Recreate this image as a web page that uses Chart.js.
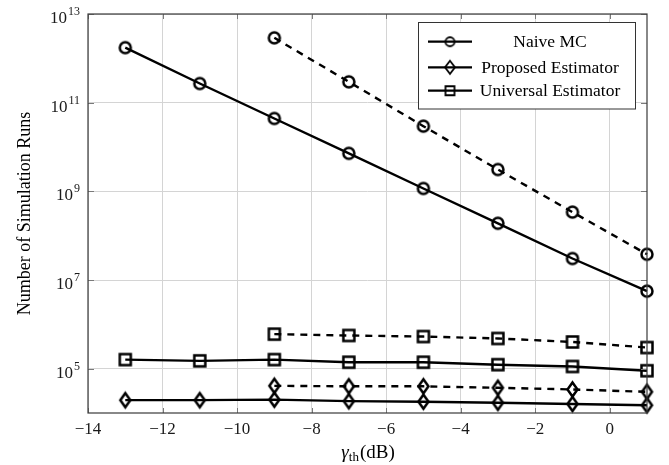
<!DOCTYPE html>
<html>
<head>
<meta charset="utf-8">
<script src="https://cdn.jsdelivr.net/npm/chart.js@4.4.1/dist/chart.umd.min.js"></script>
<style>
    html, body { margin: 0; padding: 0; background: #fff; }
    #wrap { width: 669px; height: 465px; }
</style>
</head>
<body>
<div id="wrap"><canvas id="runs-chart" width="669" height="465"></canvas></div>
<script>
// x positions (gamma_th in dB)
const gamma_all = [-13, -11, -9, -7, -5, -3, -1, 1];
const gamma_short = [-9, -7, -5, -3, -1, 1];

// solid curves
const naive_solid = [1.74e12, 2.7e11, 4.4e10, 7.2e9, 1.16e9, 1.9e8, 3.05e7, 5.6e6];
const proposed_solid = [1.95e4, 1.95e4, 2.0e4, 1.85e4, 1.8e4, 1.7e4, 1.6e4, 1.5e4];
const universal_solid = [1.6e5, 1.5e5, 1.6e5, 1.4e5, 1.4e5, 1.23e5, 1.12e5, 9.0e4];

// dashed curves
const naive_dashed = [2.9e12, 2.95e11, 2.95e10, 3.1e9, 3.4e8, 3.8e7];
const proposed_dashed = [4.1e4, 4.0e4, 4.0e4, 3.7e4, 3.4e4, 3.0e4];
const universal_dashed = [6.0e5, 5.6e5, 5.3e5, 4.8e5, 4.0e5, 3.0e5];

const x_ticks = [-14, -12, -10, -8, -6, -4, -2, 0];
const y_exponents = [5, 7, 9, 11, 13];

const legend_labels = ["Naive MC", "Proposed Estimator", "Universal Estimator"];

const SERIF = '"Liberation Serif", "Times New Roman", serif';

// hollow marker drawn on a small canvas, used as pointStyle
function makeMarker(type, w, h, lw) {
    const pad = lw + 1;
    const c = document.createElement("canvas");
    c.width = Math.ceil(w + pad * 2);
    c.height = Math.ceil(h + pad * 2);
    const g = c.getContext("2d");
    const cx = c.width / 2, cy = c.height / 2;
    g.strokeStyle = "#000";
    g.lineWidth = lw;
    g.beginPath();
    if (type == "circle") {
        g.ellipse(cx, cy, w / 2, h / 2, 0, 0, Math.PI * 2);
    } else if (type == "diamond") {
        g.moveTo(cx, cy - h / 2);
        g.lineTo(cx + w / 2, cy);
        g.lineTo(cx, cy + h / 2);
        g.lineTo(cx - w / 2, cy);
        g.closePath();
    } else {
        g.rect(cx - w / 2, cy - h / 2, w, h);
    }
    g.stroke();
    return c;
}

const mk_plot = {
    circle: makeMarker("circle", 11, 11, 2.5),
    diamond: makeMarker("diamond", 10, 14, 2.5),
    square: makeMarker("square", 11, 11, 2.5)
};
const mk_legend = {
    circle: makeMarker("circle", 9, 9, 1.8),
    diamond: makeMarker("diamond", 10, 13, 1.8),
    square: makeMarker("square", 9, 9, 1.8)
};

function points(xs, ys) {
    return xs.map((x, i) => ({ x: x, y: ys[i] }));
}

function series(xs, ys, marker, dashed) {
    return {
        data: points(xs, ys),
        borderColor: "#000",
        borderWidth: 2.4,
        borderDash: dashed ? [7, 6] : [],
        pointStyle: mk_plot[marker],
        pointRadius: 6,
        fill: false,
        tension: 0,
        clip: false
    };
}

// axis box, ticks, tick labels with exponents, titles and legend
const decorations = {
    id: "decorations",
    afterDraw(chart) {
        const ctx = chart.ctx;
        const area = chart.chartArea;
        const xs = chart.scales.x, ys = chart.scales.y;
        ctx.save();

        // tick marks (inward)
        ctx.strokeStyle = "#7a7a7a";
        ctx.lineWidth = 1;
        ctx.beginPath();
        x_ticks.forEach(v => {
            const px = Math.round(xs.getPixelForValue(v)) + 0.5;
            ctx.moveTo(px, area.bottom); ctx.lineTo(px, area.bottom - 5);
            ctx.moveTo(px, area.top); ctx.lineTo(px, area.top + 5);
        });
        y_exponents.forEach(e => {
            const py = Math.round(ys.getPixelForValue(Math.pow(10, e))) + 0.5;
            ctx.moveTo(area.left, py); ctx.lineTo(area.left + 6, py);
            ctx.moveTo(area.right, py); ctx.lineTo(area.right - 6, py);
        });
        ctx.stroke();

        // box
        ctx.strokeStyle = "#3a3a3a";
        ctx.lineWidth = 1.2;
        ctx.strokeRect(area.left, area.top, area.right - area.left, area.bottom - area.top);

        // y tick labels 10^e
        ctx.fillStyle = "#1a1a1a";
        ctx.textBaseline = "alphabetic";
        y_exponents.forEach(e => {
            const py = ys.getPixelForValue(Math.pow(10, e));
            ctx.font = "12px " + SERIF;
            ctx.textAlign = "right";
            const exp_w = ctx.measureText(String(e)).width;
            ctx.fillText(String(e), area.left - 8, py + 1);
            ctx.font = "17px " + SERIF;
            ctx.fillText("10", area.left - 9 - exp_w, py + 9);
        });

        // y title
        ctx.save();
        ctx.translate(25, (area.top + area.bottom) / 2);
        ctx.rotate(-Math.PI / 2);
        ctx.font = "18px " + SERIF;
        ctx.textAlign = "center";
        ctx.textBaseline = "middle";
        ctx.fillStyle = "#000";
        ctx.fillText("Number of Simulation Runs", 0, 0);
        ctx.restore();

        // x title: gamma_th(dB)
        const cx = (area.left + area.right) / 2;
        const base = 458;
        ctx.textAlign = "left";
        ctx.fillStyle = "#000";
        ctx.font = "italic 19px " + SERIF;
        const w1 = ctx.measureText("γ").width;
        ctx.font = "13px " + SERIF;
        const w2 = ctx.measureText("th").width;
        ctx.font = "19px " + SERIF;
        const w3 = ctx.measureText("(dB)").width;
        let x0 = cx - (w1 + w2 + w3) / 2;
        ctx.font = "italic 19px " + SERIF;
        ctx.fillText("γ", x0, base);
        ctx.font = "13px " + SERIF;
        ctx.fillText("th", x0 + w1, base + 3);
        ctx.font = "19px " + SERIF;
        ctx.fillText("(dB)", x0 + w1 + w2 + 1, base);

        // legend
        const lx = 418.5, ly = 22.5, lw = 217, lh = 86.5;
        ctx.fillStyle = "#fff";
        ctx.fillRect(lx, ly, lw, lh);
        ctx.strokeStyle = "#333";
        ctx.lineWidth = 1;
        ctx.strokeRect(lx, ly, lw, lh);
        const rows = [41.7, 67.3, 90.7];
        const marks = [mk_legend.circle, mk_legend.diamond, mk_legend.square];
        legend_labels.forEach((label, i) => {
            const ry = rows[i];
            ctx.strokeStyle = "#000";
            ctx.lineWidth = 2.2;
            ctx.beginPath();
            ctx.moveTo(428, ry); ctx.lineTo(472, ry);
            ctx.stroke();
            const m = marks[i];
            ctx.drawImage(m, 450 - m.width / 2, ry - m.height / 2);
            ctx.fillStyle = "#000";
            ctx.font = "17.5px " + SERIF;
            ctx.textAlign = "center";
            ctx.textBaseline = "middle";
            ctx.fillText(label, 550, ry + 1);
        });

        ctx.restore();
    }
};

window.addEventListener("load", () => {
    const ctx = document.getElementById("runs-chart");

    new Chart(ctx, {
        type: "line",
        data: {
            datasets: [
                series(gamma_all, naive_solid, "circle", false),
                series(gamma_short, naive_dashed, "circle", true),
                series(gamma_all, proposed_solid, "diamond", false),
                series(gamma_short, proposed_dashed, "diamond", true),
                series(gamma_all, universal_solid, "square", false),
                series(gamma_short, universal_dashed, "square", true)
            ]
        },
        options: {
            responsive: false,
            devicePixelRatio: 1,
            animation: false,
            layout: { padding: { left: 0, right: 22, top: 14, bottom: 0 } },
            plugins: {
                legend: { display: false },
                tooltip: { enabled: false }
            },
            scales: {
                x: {
                    type: "linear",
                    min: -14,
                    max: 1,
                    afterBuildTicks: (scale) => { scale.ticks = x_ticks.map(v => ({ value: v })); },
                    afterFit: (scale) => { scale.height = 52; },
                    grid: { color: "#d4d4d4", lineWidth: 1, drawTicks: false },
                    border: { display: false },
                    ticks: {
                        padding: 6,
                        color: "#1a1a1a",
                        font: { family: SERIF, size: 17 },
                        maxRotation: 0,
                        callback: (v) => (v < 0 ? "\u2212" + Math.abs(v) : String(v))
                    }
                },
                y: {
                    type: "logarithmic",
                    min: 1e4,
                    max: 1e13,
                    afterBuildTicks: (scale) => { scale.ticks = y_exponents.map(e => ({ value: Math.pow(10, e) })); },
                    afterFit: (scale) => { scale.width = 88; },
                    grid: { color: "#d4d4d4", lineWidth: 1, drawTicks: false },
                    border: { display: false },
                    ticks: { display: false }
                }
            }
        },
        plugins: [decorations]
    });
});
</script>
</body>
</html>
